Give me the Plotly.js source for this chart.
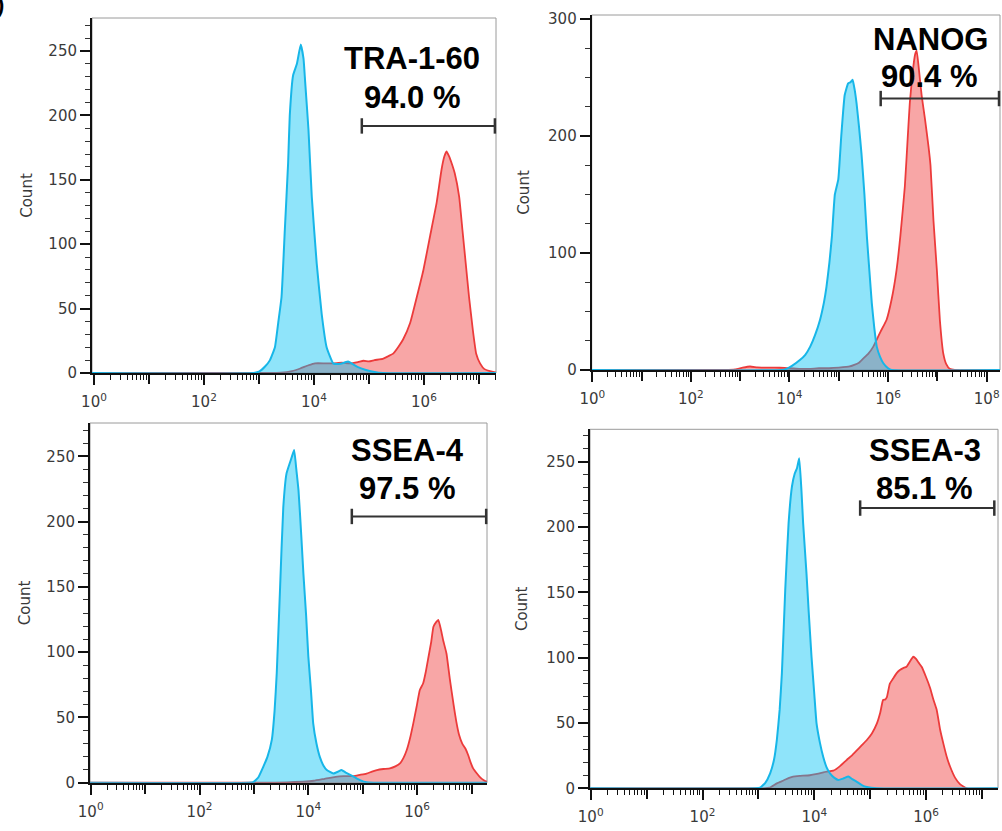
<!DOCTYPE html>
<html>
<head>
<meta charset="utf-8">
<script src="https://cdn.plot.ly/plotly-3.0.1.min.js"></script>
<style>
  html, body { margin: 0; padding: 0; background: #ffffff; }
  #chart { width: 1002px; height: 831px; }
</style>
</head>
<body>
<div id="chart"></div>
<script>
// ---------- data (x as log10 fluorescence, y as event count) ----------
const markers  = ['TRA-1-60', 'NANOG', 'SSEA-4', 'SSEA-3'];
const percents = ['94.0 %', '90.4 %', '97.5 %', '85.1 %'];

// TRA-1-60
const blueLog1 = [-0.1, 2.9, 3.0, 3.11, 3.2, 3.29, 3.35, 3.41, 3.47, 3.53, 3.56, 3.62, 3.69, 3.76, 3.81, 3.84, 3.90, 3.96, 4.05, 4.14, 4.23, 4.35, 4.45, 4.55, 4.62, 4.70, 4.80, 4.93, 5.1, 5.25, 7.5];
const blueCnt1 = [0, 0, 1, 5, 10, 20, 39, 59, 111, 163, 200, 231, 240, 255, 244, 226, 189, 137, 85, 46, 20, 7.5, 7, 8, 9, 7, 4.5, 2.5, 0.8, 0, 0];
const redLog1  = [-0.1, 3.0, 3.4, 3.6, 3.75, 3.9, 4.02, 4.2, 4.35, 4.5, 4.65, 4.8, 4.9, 5.0, 5.1, 5.25, 5.35, 5.44, 5.53, 5.62, 5.75, 5.87, 5.99, 6.11, 6.23, 6.32, 6.37, 6.41, 6.46, 6.51, 6.56, 6.64, 6.70, 6.76, 6.82, 6.89, 6.95, 7.02, 7.1, 7.2, 7.3, 7.5];
const redCnt1  = [0, 0, 0.3, 1.5, 3.5, 6, 7.5, 7.5, 7.5, 8, 7.5, 8.5, 9.5, 9, 10, 11, 13, 15, 20, 26, 39, 59, 80, 106, 132, 158, 168, 172, 168, 162, 155, 137, 111, 85, 59, 33, 15, 7.5, 3, 1.5, 0.5, 0];

// NANOG
const blueLog2 = [-0.1, 3.85, 3.94, 4.05, 4.21, 4.32, 4.42, 4.52, 4.62, 4.70, 4.75, 4.81, 4.86, 4.92, 4.99, 5.05, 5.12, 5.19, 5.24, 5.28, 5.32, 5.36, 5.41, 5.46, 5.52, 5.57, 5.62, 5.67, 5.72, 5.77, 5.84, 5.90, 6.0, 6.07, 8.5];
const blueCnt2 = [0, 0, 1, 3.5, 8.5, 13, 20, 30, 43, 58, 71, 92, 114, 150, 163, 200, 235, 245, 246, 248, 240, 228, 208, 185, 150, 114, 85, 57, 36, 20, 11, 6, 1.5, 0, 0];
const redLog2  = [-0.1, 2.7, 2.9, 3.05, 3.2, 3.35, 3.5, 3.7, 3.9, 4.0, 4.2, 4.4, 4.6, 4.8, 5.0, 5.22, 5.4, 5.5, 5.6, 5.7, 5.77, 5.85, 5.97, 6.07, 6.17, 6.25, 6.34, 6.40, 6.44, 6.50, 6.55, 6.58, 6.63, 6.68, 6.75, 6.82, 6.86, 6.92, 6.99, 7.05, 7.12, 7.18, 7.25, 7.35, 8.5];
const redCnt2  = [0, 0, 0.5, 2, 3, 2.2, 2, 2, 1.8, 1.5, 1, 1, 1.5, 1.5, 2, 3, 6, 10, 14, 20, 26, 33, 43, 60, 85, 115, 157, 200, 228, 255, 270, 273, 255, 235, 214, 191, 175, 128, 85, 43, 14, 5, 1, 0, 0];

// SSEA-4
const blueLog3 = [-0.1, 2.9, 2.99, 3.08, 3.17, 3.25, 3.33, 3.38, 3.42, 3.48, 3.54, 3.60, 3.66, 3.70, 3.74, 3.78, 3.82, 3.87, 3.91, 3.96, 4.0, 4.05, 4.09, 4.15, 4.21, 4.28, 4.34, 4.46, 4.55, 4.61, 4.68, 4.77, 4.86, 4.95, 5.07, 5.2, 7.5];
const blueCnt3 = [0, 0, 0.5, 4, 12, 20, 33, 55, 84, 148, 211, 237, 245, 250, 255, 240, 224, 190, 160, 128, 97, 70, 45.5, 30, 20, 13, 9.7, 7, 8.5, 9.7, 8, 6, 4, 2, 0.3, 0, 0];
const redLog3  = [-0.1, 3.2, 3.6, 3.9, 4.1, 4.3, 4.5, 4.65, 4.83, 4.95, 5.07, 5.17, 5.26, 5.38, 5.50, 5.6, 5.69, 5.75, 5.81, 5.87, 5.93, 5.99, 6.05, 6.11, 6.16, 6.21, 6.26, 6.30, 6.35, 6.39, 6.44, 6.48, 6.54, 6.60, 6.67, 6.72, 6.77, 6.83, 6.89, 6.94, 6.98, 7.03, 7.10, 7.16, 7.22, 7.3, 7.5];
const redCnt3  = [0, 0, 0.3, 0.8, 1.5, 3, 4.5, 5, 5, 6, 7, 8.5, 9.7, 10.5, 11, 12.5, 15, 19, 25, 34, 45.5, 58, 71, 76, 85, 96.5, 108, 119.5, 123, 124.7, 117, 109, 99, 80, 60, 47, 37, 30, 26, 21, 16, 11, 7, 4, 2, 0.5, 0];

// SSEA-3
const blueLog4 = [-0.1, 2.95, 3.03, 3.12, 3.21, 3.28, 3.33, 3.38, 3.42, 3.48, 3.54, 3.60, 3.65, 3.69, 3.73, 3.77, 3.80, 3.86, 3.90, 3.95, 4.0, 4.04, 4.10, 4.16, 4.22, 4.28, 4.36, 4.43, 4.52, 4.61, 4.68, 4.76, 4.85, 4.94, 5.12, 7.5];
const blueCnt4 = [0, 0, 0.5, 4, 11.5, 22, 37, 60, 88, 152, 203, 231, 241, 245, 252.6, 228, 203, 164.5, 135, 100.7, 72, 49.7, 35, 24, 16, 11.5, 8, 6.4, 7.5, 9, 7, 5, 2.5, 1, 0, 0];
const redLog4  = [-0.1, 3.1, 3.2, 3.33, 3.45, 3.55, 3.62, 3.75, 3.92, 4.05, 4.22, 4.34, 4.46, 4.58, 4.67, 4.76, 4.85, 4.94, 5.03, 5.12, 5.18, 5.23, 5.27, 5.30, 5.35, 5.41, 5.47, 5.53, 5.59, 5.65, 5.71, 5.77, 5.82, 5.87, 5.92, 6.0, 6.07, 6.13, 6.19, 6.25, 6.31, 6.37, 6.43, 6.52, 6.61, 6.73, 7.5];
const redCnt4  = [0, 0, 0.5, 3.8, 6, 8, 9, 9.5, 10, 11, 12.7, 13.5, 17, 21.7, 25, 29, 33, 37, 42, 49.7, 58, 67.6, 68, 70, 80, 84, 88, 90.5, 92, 93, 97, 100.7, 99, 96, 93, 85, 77, 68, 60, 45, 34, 24, 16.5, 8, 3, 0, 0];

// gates: [start log10, end log10, count level]
const gateStart = [4.87, 5.85, 4.80, 4.82];
const gateEnd   = [7.29, 8.25, 7.27, 7.22];
const gateLevel = [191.8, 232, 204, 214.5];

// ---------- build ----------
const toLin = a => a.map(v => Math.pow(10, v));
const blueLogs = [blueLog1, blueLog2, blueLog3, blueLog4];
const blueCnts = [blueCnt1, blueCnt2, blueCnt3, blueCnt4];
const redLogs  = [redLog1, redLog2, redLog3, redLog4];
const redCnts  = [redCnt1, redCnt2, redCnt3, redCnt4];

const W = 1002, H = 831;
// panel geometry in px: [left, right, top, bottom(zero line)]
const boxes = [
  [92, 496, 18, 373],
  [591.7, 1000, 15, 370],
  [90, 487, 423, 782.7],
  [590, 998, 429.3, 788.3]
];
const xRanges = [[-0.036, 7.31], [-0.012, 8.27], [-0.013, 7.285], [-0.0125, 7.286]];
const yRanges = [[0, 275.6], [0, 303.4], [0, 275.6], [0, 274.8]];
const yDticks = [50, 100, 50, 50];
const yMinor  = [10, 25, 10, 10];
const maxDec  = [7, 8, 7, 7];
const titleStandoff = [12, 15, 12, 15];

const traces = [];
const layout = {
  width: W, height: H,
  margin: {l: 0, r: 0, t: 0, b: 0},
  paper_bgcolor: '#ffffff',
  plot_bgcolor: '#ffffff',
  showlegend: false,
  shapes: [],
  annotations: []
};

const tickFont = {family: 'DejaVu Sans, sans-serif', size: 15, color: '#3a3a3a'};
const labelFont = {family: 'Liberation Sans, Arial, sans-serif', size: 31, color: '#000000', weight: 'bold'};

for (let i = 0; i < 4; i++) {
  const sfx = i === 0 ? '' : String(i + 1);
  const xa = 'x' + sfx, ya = 'y' + sfx;
  const xOdd = 'x' + (i + 5);
  const b = boxes[i];

  traces.push({
    type: 'scatter', mode: 'lines', xaxis: xa, yaxis: ya,
    x: toLin(redLogs[i]), y: redCnts[i],
    fill: 'tozeroy', fillcolor: 'rgba(240,70,70,0.48)',
    line: {color: '#ec3b3b', width: 1.8, shape: 'spline', smoothing: 0.4},
    hoverinfo: 'skip'
  });
  traces.push({
    type: 'scatter', mode: 'lines', xaxis: xa, yaxis: ya,
    x: toLin(blueLogs[i]), y: blueCnts[i],
    fill: 'tozeroy', fillcolor: 'rgba(0,194,244,0.44)',
    line: {color: '#17b6e8', width: 2, shape: 'spline', smoothing: 0.4},
    hoverinfo: 'skip'
  });
  traces.push({
    type: 'scatter', mode: 'lines+markers', xaxis: xa, yaxis: ya,
    x: toLin([gateStart[i], gateEnd[i]]), y: [gateLevel[i], gateLevel[i]],
    line: {color: '#333333', width: 2},
    marker: {symbol: 'line-ns-open', size: 11, line: {color: '#333333', width: 2.5}},
    cliponaxis: false, hoverinfo: 'skip'
  });
  // empty trace so the odd-decade tick axis is drawn
  traces.push({type: 'scatter', mode: 'lines', xaxis: xOdd, yaxis: ya, x: [], y: [], hoverinfo: 'skip'});

  const evenVals = [], evenText = [], oddVals = [], minorVals = [];
  for (let d = 0; d <= maxDec[i]; d++) {
    if (d % 2 === 0) { evenVals.push(Math.pow(10, d)); evenText.push('10<sup>' + d + '</sup>'); }
    else oddVals.push(Math.pow(10, d));
    for (let k = 2; k <= 9; k++) minorVals.push(k * Math.pow(10, d));
  }

  layout['xaxis' + sfx] = {
    domain: [b[0] / W, b[1] / W],
    anchor: ya, type: 'log', range: xRanges[i],
    showgrid: false, zeroline: false,
    showline: true, linecolor: '#111111', linewidth: 2,
    ticks: 'outside', ticklen: 10, tickwidth: 2, tickcolor: '#111111',
    tickmode: 'array', tickvals: evenVals, ticktext: evenText,
    tickfont: tickFont, ticklabelstandoff: 4,
    minor: {tickmode: 'array', tickvals: minorVals, ticks: 'outside', ticklen: 5, tickwidth: 1, tickcolor: '#111111', showgrid: false},
    fixedrange: true
  };
  layout['xaxis' + (i + 5)] = {
    overlaying: xa, anchor: ya, side: 'bottom', type: 'log', range: xRanges[i],
    showgrid: false, zeroline: false, showline: false, showticklabels: false,
    ticks: 'outside', ticklen: 10, tickwidth: 2, tickcolor: '#111111',
    tickmode: 'array', tickvals: oddVals,
    fixedrange: true
  };
  layout['yaxis' + sfx] = {
    domain: [1 - b[3] / H, 1 - b[2] / H],
    anchor: xa, range: yRanges[i],
    showgrid: false, zeroline: false,
    showline: true, linecolor: '#111111', linewidth: 2,
    ticks: 'outside', ticklen: 10, tickwidth: 2, tickcolor: '#111111',
    dtick: yDticks[i], tick0: 0,
    tickfont: tickFont,
    minor: {dtick: yMinor[i], ticks: 'outside', ticklen: 5, tickwidth: 1, tickcolor: '#333333', showgrid: false},
    title: {text: 'Count', font: {family: 'DejaVu Sans, sans-serif', size: 15, color: '#3a3a3a'}, standoff: titleStandoff[i]},
    fixedrange: true
  };

  // gray frame around the plot area
  layout.shapes.push({
    type: 'rect', xref: xa + ' domain', yref: ya + ' domain',
    x0: 0, x1: 1, y0: 0, y1: 1,
    line: {color: '#9a9a9a', width: 1}, layer: 'below'
  });
}

// marker name and percentage (pixel centres)
const labelPos = [
  [412, 58.8, 412, 97.5],
  [930, 40, 929, 76.7],
  [407, 450, 407, 488.3],
  [925, 450, 924, 488.3]
];
for (let i = 0; i < 4; i++) {
  const p = labelPos[i];
  layout.annotations.push({
    xref: 'paper', yref: 'paper', x: p[0] / W, y: 1 - p[1] / H,
    xanchor: 'center', yanchor: 'middle', showarrow: false,
    text: markers[i], font: labelFont
  });
  layout.annotations.push({
    xref: 'paper', yref: 'paper', x: p[2] / W, y: 1 - p[3] / H,
    xanchor: 'center', yanchor: 'middle', showarrow: false,
    text: percents[i], font: labelFont
  });
}
// cropped panel letter bracket at the top-left corner (cut off in the original too)
layout.annotations.push({
  xref: 'paper', yref: 'paper', x: 6 / W, y: 1 - 4 / H,
  xanchor: 'right', yanchor: 'middle', showarrow: false,
  text: ')', font: {family: 'Liberation Sans, Arial, sans-serif', size: 22, color: '#000', weight: 'bold'}
});

Plotly.newPlot('chart', traces, layout, {displayModeBar: false, staticPlot: true});
</script>
</body>
</html>
